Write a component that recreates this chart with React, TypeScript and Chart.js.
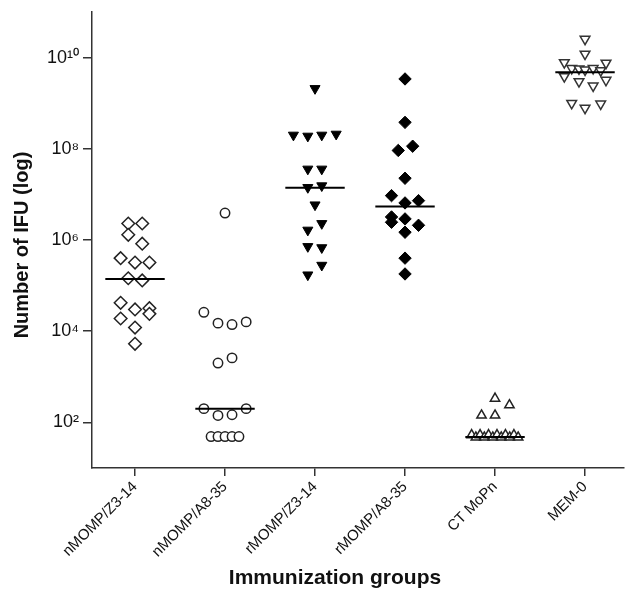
import { useEffect, useRef } from 'react';
import { Chart, registerables } from 'chart.js';

Chart.register(...registerables);

const categories = ['nMOMP/Z3-14', 'nMOMP/A8-35', 'rMOMP/Z3-14', 'rMOMP/A8-35', 'CT MoPn', 'MEM-0'];

const yTickValues = [1e2, 1e4, 1e6, 1e8, 1e10];
const yTickLabels = ['10²', '10⁴', '10⁶', '10⁸', '10¹⁰'];

// nMOMP/Z3-14
const g1Values = [2.3e6, 2.3e6, 1.3e6, 8.3e5, 4.0e5, 3.2e5, 3.2e5, 1.45e5, 1.3e5, 4.2e4, 3.0e4, 3.2e4, 2.4e4, 1.9e4, 1.2e4, 5.3e3];
const g1Offsets = [-0.075, 0.08, -0.075, 0.08, -0.16, 0, 0.16, -0.075, 0.08, -0.16, 0, 0.16, 0.16, -0.16, 0, 0];

// nMOMP/A8-35
const g2Values = [3.9e6, 2.6e4, 1.5e4, 1.4e4, 1.6e4, 2.0e3, 2.6e3, 200, 142, 147, 200, 49, 49, 49, 49, 49];
const g2Offsets = [0, -0.235, -0.078, 0.078, 0.235, -0.078, 0.078, -0.235, -0.078, 0.078, 0.235, -0.155, -0.078, 0, 0.078, 0.155];

// rMOMP/Z3-14
const g3Values = [2.1e9, 2.0e8, 1.9e8, 2.0e8, 2.1e8, 3.6e7, 3.6e7, 1.42e7, 1.55e7, 5.9e6, 2.3e6, 1.65e6, 7.2e5, 6.8e5, 2.8e5, 1.72e5];
const g3Offsets = [0, -0.24, -0.08, 0.075, 0.235, -0.08, 0.075, -0.08, 0.075, 0, 0.075, -0.08, -0.08, 0.075, 0.075, -0.08];

// rMOMP/A8-35
const g4Values = [3.4e9, 3.8e8, 9.2e7, 1.14e8, 2.26e7, 9.4e6, 6.5e6, 7.3e6, 3.2e6, 2.45e6, 2.9e6, 2.1e6, 1.48e6, 4.0e5, 1.8e5];
const g4Offsets = [0, 0, -0.075, 0.085, 0, -0.15, 0, 0.15, -0.15, -0.15, 0, 0.15, 0, 0, 0];

// CT MoPn
const g5Values = [335, 240, 143, 143, 53, 47, 53, 47, 53, 47, 53, 47, 53, 47, 53, 47];
const g5Offsets = [0, 0.16, -0.15, 0, -0.26, -0.213, -0.166, -0.119, -0.072, -0.025, 0.022, 0.069, 0.116, 0.163, 0.21, 0.257];

// MEM-0
const g6Values = [2.55e10, 1.2e10, 7.8e9, 7.6e9, 5.8e9, 5.7e9, 5.4e9, 5.8e9, 5.2e9, 3.85e9, 3.0e9, 2.4e9, 3.2e9, 1.0e9, 7.8e8, 9.7e8];
const g6Offsets = [0, 0, -0.23, 0.233, -0.148, -0.067, 0, 0.09, 0.174, -0.23, -0.067, 0.09, 0.233, -0.148, 0, 0.174];

const medians = [1.4e5, 200, 1.4e7, 5.4e6, 48, 4.8e9];

const groupValues = [g1Values, g2Values, g3Values, g4Values, g5Values, g6Values];
const groupOffsets = [g1Offsets, g2Offsets, g3Offsets, g4Offsets, g5Offsets, g6Offsets];

const groupStyles = [
  { pointStyle: 'rectRot', radius: 6.3, fill: '#ffffff', stroke: '#222222', width: 1.5, rotation: 0 },
  { pointStyle: 'circle', radius: 4.7, fill: '#ffffff', stroke: '#222222', width: 1.5, rotation: 0 },
  { pointStyle: 'triangle', radius: 5.8, fill: '#000000', stroke: '#000000', width: 1, rotation: 180 },
  { pointStyle: 'rectRot', radius: 6.2, fill: '#000000', stroke: '#000000', width: 1, rotation: 0 },
  { pointStyle: 'triangle', radius: 5.4, fill: '#ffffff', stroke: '#222222', width: 1.5, rotation: 0 },
  { pointStyle: 'triangle', radius: 5.6, fill: '#ffffff', stroke: '#333333', width: 1.5, rotation: 180 },
];

const FONT = '"Liberation Sans", Arial, Helvetica, sans-serif';

const titlePlugin = {
  id: 'axisTitles',
  afterDraw(chart: any) {
    const ctx = chart.ctx;
    const area = chart.chartArea;
    ctx.save();
    ctx.fillStyle = '#111111';
    ctx.textAlign = 'center';
    ctx.textBaseline = 'middle';
    ctx.font = `bold 21px ${FONT}`;
    ctx.fillText('Immunization groups', area.left + 243, area.bottom + 110);
    ctx.translate(22, area.top + 233);
    ctx.rotate(-Math.PI / 2);
    ctx.font = `bold 20px ${FONT}`;
    ctx.fillText('Number of IFU (log)', 0, 0);
    ctx.restore();
  },
};

export default function App() {
  const canvasRef = useRef<HTMLCanvasElement | null>(null);

  useEffect(() => {
    const canvas = canvasRef.current;
    if (!canvas) return;

    const medianSets = medians.map((m, i) => ({
      label: `median ${categories[i]}`,
      data: [
        { x: i - 0.33, y: m },
        { x: i + 0.33, y: m },
      ],
      showLine: true,
      borderColor: '#000000',
      borderWidth: 2,
      pointRadius: 0,
      fill: false,
    }));

    const pointSets = groupValues.map((vals, i) => {
      const st = groupStyles[i];
      return {
        label: categories[i],
        data: vals.map((v, j) => ({ x: i + groupOffsets[i][j], y: v })),
        showLine: false,
        pointStyle: st.pointStyle,
        pointRadius: st.radius,
        pointBackgroundColor: st.fill,
        pointBorderColor: st.stroke,
        pointBorderWidth: st.width,
        pointRotation: st.rotation,
      };
    });

    const chart = new Chart(canvas, {
      type: 'scatter',
      data: { datasets: [...medianSets, ...pointSets] as any },
      plugins: [titlePlugin],
      options: {
        animation: false,
        responsive: false,
        maintainAspectRatio: false,
        layout: { autoPadding: false, padding: { top: 12, right: 1, left: 0, bottom: 0 } },
        plugins: { legend: { display: false }, tooltip: { enabled: false } },
        scales: {
          x: {
            type: 'linear',
            min: -0.478,
            max: 5.433,
            afterBuildTicks: (s: any) => {
              s.ticks = categories.map((_, i) => ({ value: i }));
            },
            afterFit: (s: any) => {
              s.height = 128;
              s.paddingLeft = 0;
              s.paddingRight = 0;
            },
            ticks: {
              autoSkip: false,
              maxRotation: 45,
              minRotation: 45,
              padding: 2,
              color: '#111111',
              font: { family: FONT, size: 15 },
              callback: (v: any) => categories[Math.round(Number(v))] ?? '',
            },
            grid: { drawOnChartArea: false, drawTicks: true, tickLength: 8, color: '#333333', lineWidth: 1.5 },
            border: { display: true, color: '#333333', width: 1.5 },
          },
          y: {
            type: 'logarithmic',
            min: 10,
            max: 1e11,
            afterBuildTicks: (s: any) => {
              s.ticks = yTickValues.map((v) => ({ value: v }));
            },
            afterFit: (s: any) => {
              s.width = 92;
              s.paddingTop = 0;
              s.paddingBottom = 0;
            },
            ticks: {
              padding: 4,
              color: '#111111',
              font: { family: FONT, size: 18 },
              callback: (v: any) => {
                const idx = yTickValues.indexOf(Number(v));
                return idx >= 0 ? yTickLabels[idx] : '';
              },
            },
            grid: { drawOnChartArea: false, drawTicks: true, tickLength: 9, color: '#333333', lineWidth: 1.5 },
            border: { display: true, color: '#333333', width: 1.5 },
          },
        },
      } as any,
    });

    return () => {
      chart.destroy();
    };
  }, []);

  return (
    <div style={{ position: 'absolute', left: 0, top: 0, width: 625, height: 596, background: '#ffffff' }}>
      <canvas ref={canvasRef} width={625} height={596} style={{ display: 'block' }} />
    </div>
  );
}
